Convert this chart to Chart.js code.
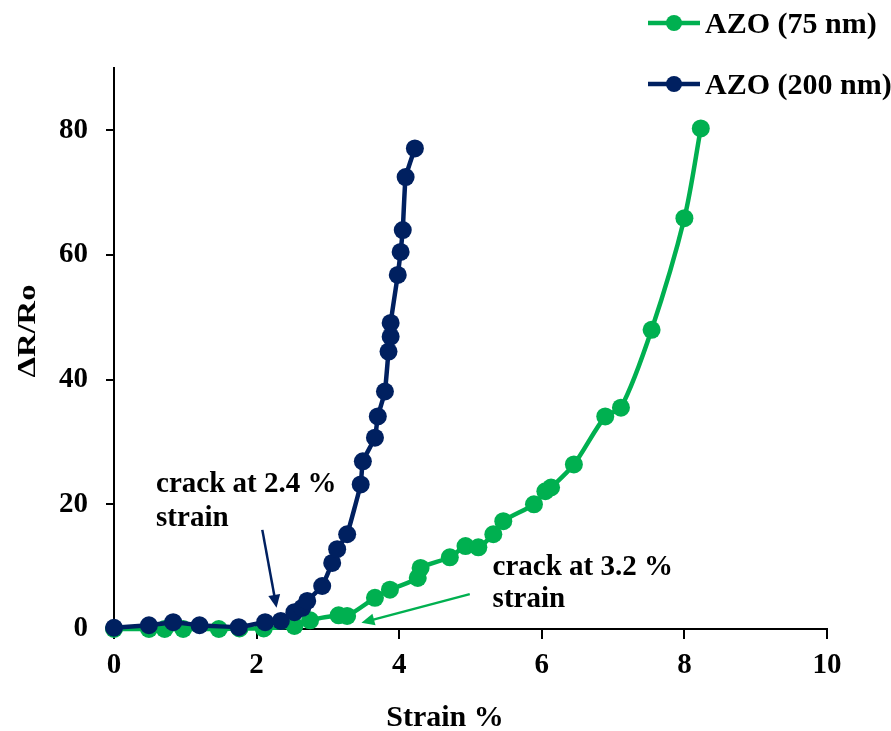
<!DOCTYPE html>
<html>
<head>
<meta charset="utf-8">
<script src="https://cdn.jsdelivr.net/npm/chart.js@4.4.1/dist/chart.umd.min.js"></script>
<style>
  html, body { margin: 0; padding: 0; background: #fff; }
  #wrap { width: 891px; height: 731px; position: relative; }
</style>
</head>
<body>
<div id="wrap"><canvas id="myChart"></canvas></div>
<script>
// values
const seriesNames = ['AZO (75 nm)', 'AZO (200 nm)']

const strain75 = [0, 0.49, 0.71, 0.97, 1.47, 1.76, 2.10, 2.53, 2.75, 3.15, 3.27, 3.66, 3.87, 4.26, 4.30, 4.71, 4.93, 5.11, 5.32, 5.46, 5.89, 6.05, 6.13, 6.45, 6.89, 7.11, 7.54, 8.00, 8.23]
const dr75 = [0, 0, 0, 0, 0, 0.1, 0.1, 0.5, 1.4, 2.2, 2.1, 5.0, 6.3, 8.2, 9.8, 11.5, 13.3, 13.1, 15.2, 17.3, 20.0, 22.1, 22.7, 26.4, 34.1, 35.5, 48.0, 65.9, 80.3]

const strain200 = [0, 0.49, 0.83, 1.20, 1.75, 2.12, 2.34, 2.53, 2.64, 2.71, 2.92, 3.06, 3.13, 3.27, 3.46, 3.49, 3.66, 3.70, 3.80, 3.85, 3.88, 3.88, 3.98, 4.02, 4.05, 4.09, 4.22]
const dr200 = [0.2, 0.6, 1.1, 0.6, 0.3, 1.1, 1.3, 2.7, 3.4, 4.5, 6.9, 10.6, 12.8, 15.2, 23.2, 26.9, 30.7, 34.1, 38.1, 44.5, 46.9, 49.1, 56.8, 60.5, 64.0, 72.5, 77.1]

const xTicks = [0, 2, 4, 6, 8, 10]
const yTicks = [0, 20, 40, 60, 80]
const xTitle = 'Strain %'
const yTitle = 'ΔR/Ro'

const green = '#00B050'
const navy = '#002060'
const fontName = '"Liberation Serif", "Times New Roman", serif'

// annotation text + arrows, in data units
const notes = [
    { lines: ['crack at 2.4 %', 'strain'], x: 0.59, y: [21.9, 16.6], from: [2.08, 15.9], to: [2.28, 3.4], color: navy },
    { lines: ['crack at 3.2 %', 'strain'], x: 5.31, y: [8.6, 3.5], from: [4.99, 5.6], to: [3.47, 1.0], color: green }
]

function pts(xs, ys) {
    return xs.map((x, i) => ({ x: x, y: ys[i] }))
}

function arrow(ctx, x1, y1, x2, y2, color) {
    const a = Math.atan2(y2 - y1, x2 - x1)
    const len = 13, half = 6
    ctx.save()
    ctx.strokeStyle = color
    ctx.fillStyle = color
    ctx.lineWidth = 2.5
    ctx.beginPath()
    ctx.moveTo(x1, y1)
    ctx.lineTo(x2 - Math.cos(a) * len * 0.8, y2 - Math.sin(a) * len * 0.8)
    ctx.stroke()
    ctx.beginPath()
    ctx.moveTo(x2, y2)
    ctx.lineTo(x2 - Math.cos(a) * len + Math.sin(a) * half, y2 - Math.sin(a) * len - Math.cos(a) * half)
    ctx.lineTo(x2 - Math.cos(a) * len - Math.sin(a) * half, y2 - Math.sin(a) * len + Math.cos(a) * half)
    ctx.closePath()
    ctx.fill()
    ctx.restore()
}

const extras = {
    id: 'extras',
    afterDraw(chart) {
        const ctx = chart.ctx
        const xs = chart.scales.x, ys = chart.scales.y

        // notes
        ctx.save()
        ctx.fillStyle = '#000'
        ctx.font = 'bold 29px ' + fontName
        ctx.textAlign = 'left'
        ctx.textBaseline = 'alphabetic'
        for (const n of notes) {
            n.lines.forEach((t, i) => {
                ctx.fillText(t, xs.getPixelForValue(n.x), ys.getPixelForValue(n.y[i]))
            })
            arrow(ctx, xs.getPixelForValue(n.from[0]), ys.getPixelForValue(n.from[1]),
                xs.getPixelForValue(n.to[0]), ys.getPixelForValue(n.to[1]), n.color)
        }
        ctx.restore()

        // axis titles
        ctx.save()
        ctx.fillStyle = '#000'
        ctx.font = 'bold 30px ' + fontName
        ctx.textAlign = 'center'
        ctx.textBaseline = 'alphabetic'
        ctx.fillText(xTitle, 445, 726)
        ctx.restore()

        ctx.save()
        ctx.fillStyle = '#000'
        ctx.font = 'bold 25px ' + fontName
        ctx.textAlign = 'center'
        ctx.textBaseline = 'alphabetic'
        ctx.translate(35, 331)
        ctx.rotate(-Math.PI / 2)
        const w = ctx.measureText(yTitle).width
        ctx.scale(93 / w, 1)
        ctx.fillText(yTitle, 0, 0)
        ctx.restore()

        // legend
        const rows = [23, 84]
        chart.data.datasets.forEach((ds, i) => {
            const y = rows[i]
            ctx.save()
            ctx.strokeStyle = ds.borderColor
            ctx.fillStyle = ds.borderColor
            ctx.lineWidth = 4.5
            ctx.beginPath()
            ctx.moveTo(648, y)
            ctx.lineTo(700, y)
            ctx.stroke()
            ctx.beginPath()
            ctx.arc(674, y, 8, 0, Math.PI * 2)
            ctx.fill()
            ctx.fillStyle = '#000'
            ctx.font = 'bold 30px ' + fontName
            ctx.textAlign = 'left'
            ctx.textBaseline = 'middle'
            ctx.fillText(ds.label, 705, y + 2)
            ctx.restore()
        })
    }
}

const data = {
    datasets: [{
        label: seriesNames[0],
        data: pts(strain75, dr75),
        borderColor: green,
        backgroundColor: green,
        tension: 0.3,
        clip: false,
        order: 1
    }, {
        label: seriesNames[1],
        data: pts(strain200, dr200),
        borderColor: navy,
        backgroundColor: navy,
        tension: 0.1,
        clip: false,
        order: 0
    }]
}

const config = {
    type: 'scatter',
    data: data,
    options: {
        responsive: true,
        maintainAspectRatio: false,
        animation: false,
        layout: { padding: { top: 68, right: 64, left: 0, bottom: 0 } },
        elements: {
            point: { radius: 9, hoverRadius: 9, borderWidth: 0 },
            line: { borderWidth: 4.5 }
        },
        datasets: { scatter: { showLine: true } },
        plugins: {
            legend: { display: false },
            tooltip: { enabled: false }
        },
        scales: {
            x: {
                type: 'linear',
                min: 0,
                max: 10,
                afterFit(scale) { scale.height = 102 },
                afterBuildTicks(scale) { scale.ticks = xTicks.map(v => ({ value: v })) },
                grid: { drawOnChartArea: false, drawTicks: true, tickLength: 10, color: '#000', lineWidth: 2 },
                border: { display: true, color: '#000', width: 2 },
                ticks: { color: '#000', padding: 9, font: { family: fontName, size: 29, weight: 'bold' } }
            },
            y: {
                type: 'linear',
                min: 0,
                max: 90,
                afterFit(scale) { scale.width = 114 },
                afterBuildTicks(scale) { scale.ticks = yTicks.map(v => ({ value: v })) },
                grid: { drawOnChartArea: false, drawTicks: true, tickLength: 8, color: '#000', lineWidth: 2 },
                border: { display: true, color: '#000', width: 2 },
                ticks: { color: '#000', padding: 18, font: { family: fontName, size: 29, weight: 'bold' } }
            }
        }
    },
    plugins: [extras]
}

const myChart = new Chart(document.getElementById('myChart'), config)
</script>
</body>
</html>
